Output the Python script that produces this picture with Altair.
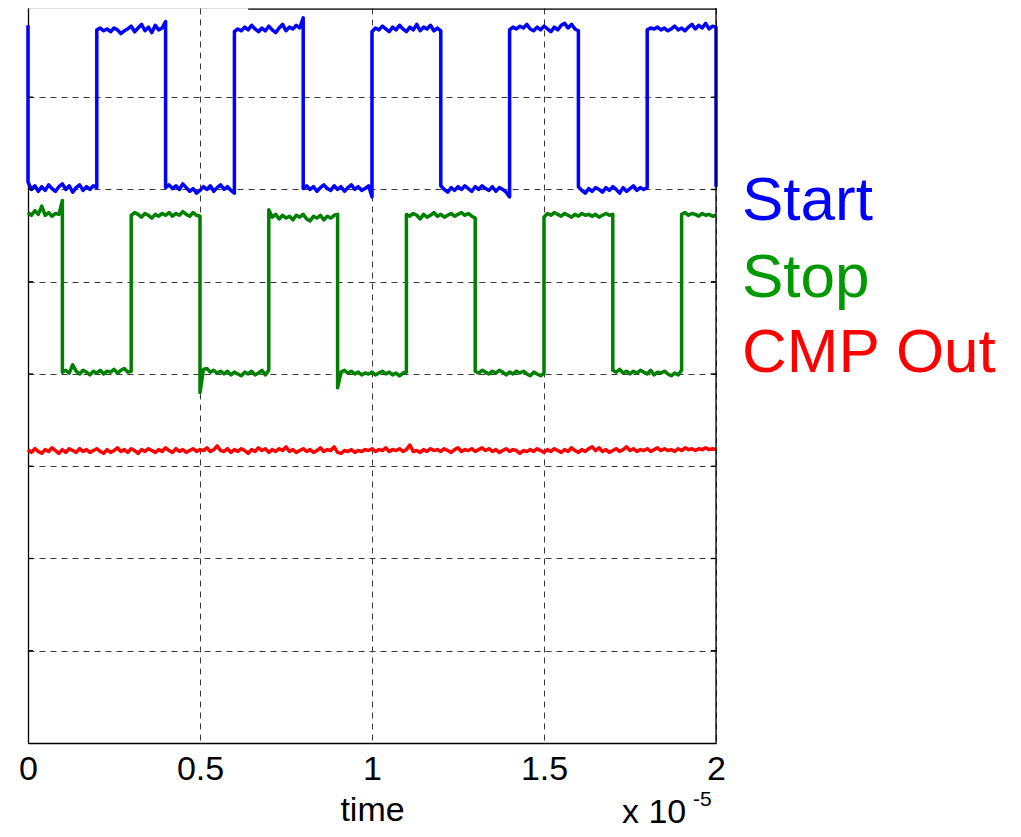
import altair as alt
import pandas as pd
import numpy as np

# ---------------- data (signal levels, arbitrary vertical units) ----------------
series_names = ["Start", "Stop", "CMP Out"]
series_colors = ["#0000ff", "#008000", "#ff0000"]
label_colors = ["#0000ff", "#009900", "#ff0000"]

# Start: edges (time, x1e-5) and sampled values within each segment
start_edges = [0.0, 0.2, 0.4, 0.6, 0.8, 1.0, 1.2, 1.4, 1.6, 1.8, 2.0]
start_first = 7.78
start_last = 6.03
start_segments = [
    [6.08, 6.00, 6.04, 5.98, 6.03, 5.99, 6.05, 6.01, 5.98, 6.03, 6.06, 6.00, 6.04, 5.97, 6.02, 6.05, 5.99, 6.03, 6.00, 6.04, 6.02],
    [7.73, 7.75, 7.72, 7.74, 7.71, 7.75, 7.73, 7.69, 7.72, 7.74, 7.77, 7.71, 7.75, 7.79, 7.72, 7.76, 7.70, 7.78, 7.73, 7.75, 7.82],
    [6.02, 6.05, 6.01, 6.04, 6.00, 6.06, 6.02, 5.98, 6.01, 5.96, 5.99, 6.03, 6.00, 6.04, 5.98, 6.02, 6.05, 6.00, 6.03, 5.99, 5.96],
    [7.71, 7.74, 7.72, 7.76, 7.73, 7.78, 7.74, 7.71, 7.75, 7.72, 7.77, 7.73, 7.70, 7.75, 7.79, 7.72, 7.76, 7.74, 7.78, 7.75, 7.86],
    [6.01, 6.04, 6.00, 6.03, 5.98, 6.02, 6.05, 6.01, 5.99, 6.04, 6.00, 6.03, 5.98, 6.02, 6.05, 6.00, 6.03, 5.99, 6.01, 6.04, 5.92],
    [7.71, 7.75, 7.73, 7.77, 7.74, 7.71, 7.76, 7.73, 7.78, 7.74, 7.71, 7.76, 7.73, 7.79, 7.72, 7.76, 7.74, 7.78, 7.72, 7.75, 7.72],
    [6.04, 6.00, 5.97, 6.02, 5.99, 6.03, 6.00, 6.04, 6.01, 5.98, 6.03, 6.00, 6.04, 6.01, 5.99, 6.03, 5.98, 6.02, 6.00, 5.97, 5.92],
    [7.73, 7.76, 7.74, 7.77, 7.75, 7.79, 7.74, 7.72, 7.76, 7.73, 7.77, 7.74, 7.71, 7.76, 7.73, 7.78, 7.80, 7.75, 7.79, 7.74, 7.72],
    [6.03, 5.99, 5.96, 6.01, 5.98, 6.02, 6.00, 5.97, 6.02, 5.99, 6.03, 6.00, 5.96, 6.02, 5.98, 6.01, 6.04, 5.99, 6.02, 6.00, 6.02],
    [7.73, 7.75, 7.74, 7.76, 7.73, 7.75, 7.72, 7.74, 7.77, 7.73, 7.75, 7.72, 7.76, 7.79, 7.74, 7.78, 7.75, 7.80, 7.74, 7.77, 7.76],
]

# Stop
stop_edges = [0.0, 0.1, 0.3, 0.5, 0.7, 0.9, 1.1, 1.3, 1.5, 1.7, 1.9, 2.0]
stop_segments = [
    [5.75, 5.72, 5.77, 5.73, 5.82, 5.72, 5.75, 5.71, 5.74, 5.73, 5.88],
    [4.02, 4.04, 4.01, 4.10, 4.03, 4.00, 4.04, 4.02, 3.99, 4.03, 4.01, 4.04, 4.00, 4.03, 4.02, 4.05, 4.01, 4.04, 4.06, 4.02, 4.03],
    [5.72, 5.75, 5.73, 5.70, 5.74, 5.72, 5.69, 5.73, 5.71, 5.74, 5.72, 5.75, 5.71, 5.74, 5.72, 5.76, 5.73, 5.71, 5.75, 5.72, 5.71],
    [3.80, 4.05, 4.06, 4.02, 4.04, 4.01, 4.03, 4.00, 4.03, 3.99, 4.02, 4.00, 3.98, 4.02, 4.00, 4.03, 3.99, 4.01, 4.04, 3.99, 4.04],
    [5.78, 5.70, 5.73, 5.68, 5.72, 5.69, 5.71, 5.67, 5.72, 5.70, 5.73, 5.68, 5.66, 5.71, 5.69, 5.72, 5.67, 5.71, 5.69, 5.72, 5.73],
    [3.85, 4.02, 4.04, 4.01, 4.03, 4.00, 4.02, 3.99, 4.01, 4.00, 4.02, 3.99, 4.01, 4.03, 4.00, 4.02, 3.99, 4.01, 3.98, 4.01, 4.02],
    [5.73, 5.71, 5.74, 5.72, 5.68, 5.73, 5.70, 5.72, 5.75, 5.71, 5.73, 5.70, 5.72, 5.74, 5.71, 5.73, 5.75, 5.72, 5.74, 5.71, 5.69],
    [4.03, 4.01, 4.04, 4.02, 4.00, 4.03, 4.01, 4.04, 4.02, 3.99, 4.02, 4.00, 4.03, 4.01, 4.03, 4.00, 3.98, 4.02, 4.00, 3.98, 4.01],
    [5.70, 5.74, 5.72, 5.75, 5.73, 5.71, 5.74, 5.72, 5.70, 5.73, 5.71, 5.74, 5.72, 5.73, 5.71, 5.73, 5.70, 5.72, 5.74, 5.72, 5.73],
    [4.04, 4.02, 4.05, 4.01, 4.03, 4.00, 4.03, 4.01, 4.04, 4.02, 4.00, 4.04, 3.99, 4.02, 4.01, 4.03, 4.00, 3.98, 4.01, 3.99, 4.04],
    [5.73, 5.75, 5.72, 5.74, 5.73, 5.71, 5.74, 5.72, 5.73, 5.71, 5.72],
]

# CMP Out (sampled evenly over 0..2)
cmp_values = [
    3.18, 3.15, 3.19, 3.16, 3.14, 3.18, 3.16, 3.20, 3.17, 3.14, 3.18, 3.15, 3.19, 3.17, 3.15, 3.19, 3.16, 3.18, 3.15, 3.17,
    3.19, 3.16, 3.14, 3.18, 3.15, 3.17, 3.20, 3.16, 3.18, 3.15, 3.19, 3.17, 3.14, 3.18, 3.16, 3.19, 3.17, 3.15, 3.18, 3.16,
    3.20, 3.17, 3.15, 3.19, 3.16, 3.18, 3.15, 3.17, 3.19, 3.16, 3.18, 3.17, 3.20, 3.16, 3.18, 3.22, 3.17, 3.16, 3.19, 3.15,
    3.18, 3.16, 3.19, 3.17, 3.14, 3.18, 3.16, 3.20, 3.17, 3.19, 3.15, 3.18, 3.16, 3.19, 3.17, 3.21, 3.16, 3.18, 3.15, 3.17,
    3.19, 3.16, 3.18, 3.15, 3.17, 3.20, 3.16, 3.18, 3.17, 3.21, 3.15, 3.14, 3.17, 3.16, 3.18, 3.15, 3.17, 3.16, 3.18, 3.17,
    3.19, 3.16, 3.18, 3.17, 3.20, 3.16, 3.18, 3.17, 3.19, 3.16, 3.18, 3.23, 3.16, 3.17, 3.15, 3.18, 3.16, 3.19, 3.17, 3.18,
    3.16, 3.19, 3.17, 3.15, 3.18, 3.20, 3.16, 3.18, 3.17, 3.19, 3.16, 3.18, 3.20, 3.17, 3.19, 3.16, 3.18, 3.15, 3.17, 3.19,
    3.16, 3.18, 3.17, 3.14, 3.17, 3.16, 3.18, 3.16, 3.19, 3.17, 3.15, 3.18, 3.16, 3.19, 3.17, 3.15, 3.18, 3.16, 3.20, 3.17,
    3.15, 3.18, 3.16, 3.19, 3.21, 3.17, 3.20, 3.16, 3.18, 3.15, 3.17, 3.19, 3.16, 3.18, 3.21, 3.17, 3.19, 3.16, 3.18, 3.17,
    3.19, 3.16, 3.18, 3.20, 3.17, 3.19, 3.17, 3.18, 3.16, 3.19, 3.17, 3.20, 3.18, 3.19, 3.17, 3.19, 3.18, 3.20, 3.18, 3.19,
    3.18,
]

x_ticks = [0, 0.5, 1, 1.5, 2]
y_grid = [0, 1, 2, 3, 4, 5, 6, 7]
Y_TOP = 7.967
top_frame_t = [0.64, 2.0]
top_frame_v = 7.955

# ---------------- build table ----------------
rows = []


def add(name, t, v):
    rows.append({"series": name, "t": float(t), "v": float(v), "i": len(rows)})


add("Start", 0.0, start_first)
for k, seg in enumerate(start_segments):
    for t, v in zip(np.linspace(start_edges[k], start_edges[k + 1], len(seg)), seg):
        add("Start", t, v)
add("Start", 2.0, start_last)

for k, seg in enumerate(stop_segments):
    for t, v in zip(np.linspace(stop_edges[k], stop_edges[k + 1], len(seg)), seg):
        add("Stop", t, v)

for t, v in zip(np.linspace(0, 2, len(cmp_values)), cmp_values):
    add("CMP Out", t, v)

df = pd.DataFrame(rows)
frame_df = pd.DataFrame({"t": top_frame_t, "v": [top_frame_v, top_frame_v]})
tick_df = pd.DataFrame({"v": y_grid[1:]})
one = pd.DataFrame({"k": [0]})

W, H = 688, 735
FONT = "Liberation Sans"

xs = alt.Scale(domain=[0, 2], nice=False, zero=False)
ys = alt.Scale(domain=[0, Y_TOP], nice=False, zero=False)

grid_common = dict(
    grid=True, gridDash=[6, 5], gridColor="#3a3a3a", gridOpacity=1, gridWidth=1,
    ticks=False, domain=True, domainColor="#000000", domainWidth=1.3,
)

lines = alt.Chart(df).mark_line(strokeWidth=3.5, strokeJoin="round").encode(
    x=alt.X("t:Q", scale=xs, axis=alt.Axis(
        values=x_ticks, format="~g", labelFlush=False, labelFont=FONT, labelFontSize=34,
        labelColor="#000000", labelPadding=9, title="time", titleFont=FONT,
        titleFontSize=34, titleFontWeight="normal", titleColor="#000000", titlePadding=7,
        **grid_common)),
    y=alt.Y("v:Q", scale=ys, axis=alt.Axis(
        values=y_grid, labels=False, title=None, **grid_common)),
    color=alt.Color("series:N", scale=alt.Scale(domain=series_names, range=series_colors),
                    legend=None),
    order=alt.Order("i:Q"),
)

right_border = alt.Chart(one).mark_rule(color="#000000", strokeWidth=1.3).encode(
    x=alt.value(W), y=alt.value(0), y2=alt.value(H))
top_border = alt.Chart(frame_df).mark_line(color="#000000", strokeWidth=1.4).encode(
    x=alt.X("t:Q", scale=xs), y=alt.Y("v:Q", scale=ys))
right_ticks = alt.Chart(tick_df).mark_rule(color="#000000", strokeWidth=1.3).encode(
    x=alt.value(W - 5), x2=alt.value(W), y=alt.Y("v:Q", scale=ys))
left_ticks = alt.Chart(tick_df).mark_rule(color="#000000", strokeWidth=1.3).encode(
    x=alt.value(0), x2=alt.value(5), y=alt.Y("v:Q", scale=ys))

legend_layers = []
legend_y = [212, 289, 364]
for name, col, yy in zip(series_names, label_colors, legend_y):
    legend_layers.append(
        alt.Chart(one).mark_text(text=name, font=FONT, fontSize=62, color=col,
                                 fontWeight="normal", align="left",
                                 baseline="alphabetic").encode(
            x=alt.value(714), y=alt.value(yy)))

exp_base = alt.Chart(one).mark_text(text="x 10", font=FONT, fontSize=34, color="#000000",
                                    fontWeight="normal", align="left",
                                    baseline="alphabetic").encode(
    x=alt.value(594), y=alt.value(815))
exp_pow = alt.Chart(one).mark_text(text="-5", font=FONT, fontSize=21, color="#000000",
                                   fontWeight="normal", align="left",
                                   baseline="alphabetic").encode(
    x=alt.value(665), y=alt.value(798))

chart = alt.layer(lines, right_border, top_border, right_ticks, left_ticks,
                  *legend_layers, exp_base, exp_pow).properties(
    width=W, height=H,
    autosize=alt.AutoSizeParams(type="none"),
    padding={"left": 20, "top": 0, "right": 297, "bottom": 86},
).configure_view(stroke=None).configure(background="white")

chart.save("out.html", embed_options={"renderer": "svg", "actions": False})
